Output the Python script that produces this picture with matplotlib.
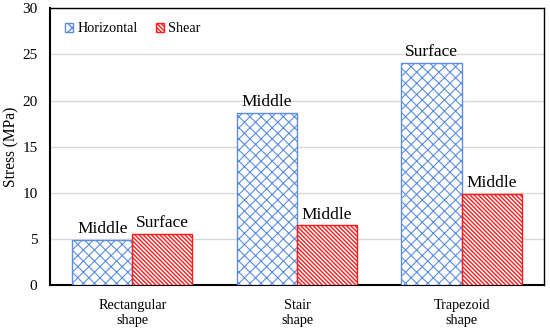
import matplotlib
matplotlib.use("Agg")
import matplotlib.pyplot as plt
import numpy as np

categories = ["Rectangular\nshape", "Stair\nshape", "Trapezoid\nshape"]
horizontal = [4.9, 18.7, 24.1]
shear = [5.6, 6.5, 9.9]
horizontal_notes = ["Middle", "Middle", "Surface"]
shear_notes = ["Surface", "Middle", "Middle"]

plt.rcParams['font.family'] = ['Liberation Serif', 'DejaVu Serif']

fig = plt.figure(figsize=(5.5, 3.31), dpi=100)
ax = fig.add_axes([0.0909, 0.1375, 0.898, 0.838])

x = np.arange(len(categories))
w = 0.365
blue = '#5B8EE0'
red = '#FF1A1A'

plt.rcParams['hatch.linewidth'] = 0.8
b1 = ax.bar(x - w / 2, horizontal, w, facecolor='white', edgecolor=blue,
            hatch='xxx', linewidth=1.0, label='Horizontal', zorder=3)
plt.rcParams['hatch.linewidth'] = 1.0
b2 = ax.bar(x + w / 2, shear, w, facecolor='white', edgecolor=red,
            hatch='\\' * 8, linewidth=1.0, label='Shear', zorder=3)

for xi, v, t in zip(x - w / 2, horizontal, horizontal_notes):
    ax.text(xi, v + 0.3, t, ha='center', va='bottom', fontsize=12.5)
for xi, v, t in zip(x + w / 2, shear, shear_notes):
    ax.text(xi, v + 0.3, t, ha='center', va='bottom', fontsize=12.5)

ax.set_xlim(-0.5, 2.5)
ax.set_ylim(0, 30)
ax.set_yticks(range(0, 31, 5))
ax.set_xticks(x)
ax.set_xticklabels(categories, fontsize=10.2)
ax.tick_params(axis='x', length=0, pad=10)
ax.tick_params(axis='y', length=0, pad=9, labelsize=11)
ax.yaxis.grid(True, color='#D9D9D9', linewidth=1.0, zorder=0)
ax.set_axisbelow(True)
ax.set_ylabel('Stress (MPa)', fontsize=11.2)
ax.yaxis.set_label_coords(-0.062, 0.5)
for s in ax.spines.values():
    s.set_color('black')
    s.set_linewidth(1.0)
ax.spines['left'].set_linewidth(1.5)
ax.spines['bottom'].set_linewidth(1.5)

ax.legend(loc='upper left', ncol=2, frameon=False, fontsize=10.2,
          handlelength=0.55, handleheight=0.55, handletextpad=0.3,
          columnspacing=1.3, bbox_to_anchor=(0.005, 0.995))

fig.savefig('out.png', dpi=100)
